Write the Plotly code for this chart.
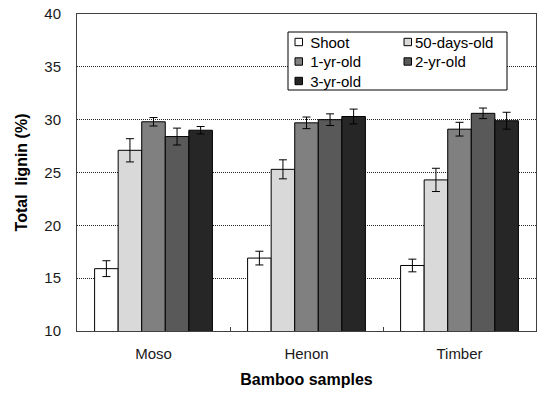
import plotly.graph_objects as go

categories = ["Moso", "Henon", "Timber"]
series_names = ["Shoot", "50-days-old", "1-yr-old", "2-yr-old", "3-yr-old"]
shoot = [15.9, 16.9, 16.2]
days50 = [27.1, 25.3, 24.3]
yr1 = [29.8, 29.7, 29.1]
yr2 = [28.4, 30.0, 30.6]
yr3 = [29.0, 30.3, 29.9]
shoot_err = [0.75, 0.65, 0.6]
days50_err = [1.1, 0.9, 1.1]
yr1_err = [0.4, 0.55, 0.65]
yr2_err = [0.8, 0.55, 0.5]
yr3_err = [0.35, 0.7, 0.8]
y_ticks = [10, 15, 20, 25, 30, 35, 40]

values = [shoot, days50, yr1, yr2, yr3]
errors = [shoot_err, days50_err, yr1_err, yr2_err, yr3_err]
colors = ["#ffffff", "#d9d9d9", "#808080", "#595959", "#262626"]

FONT = "Liberation Sans, Arial, sans-serif"
W, H = 541, 394
ML, MR, MT, MB = 77, 5, 14, 63
PW, PH = W - ML - MR, H - MT - MB


def px_x(p):
    return (p - ML) / PW


def px_y(p):
    return (H - MB - p) / PH


fig = go.Figure()
for name, vals, errs, col in zip(series_names, values, errors, colors):
    fig.add_trace(go.Bar(
        name=name, x=categories, y=vals,
        marker=dict(color=col, line=dict(color="#000000", width=1)),
        error_y=dict(type="data", array=errs, visible=True, color="#000000",
                     thickness=1, width=4),
    ))

# Legend drawn as a boxed two-column key (Excel style)
col_x = [295, 404]          # left edge of swatch (px)
row_y = [42, 61.5, 81]      # row centres (px)
labels = [" " + series_names[0], series_names[1], " " + series_names[2],
          series_names[3], " " + series_names[4]]
shapes = [dict(type="rect", xref="paper", yref="paper",
               x0=px_x(288), x1=px_x(507), y0=px_y(90), y1=px_y(32),
               line=dict(color="#000000", width=1), fillcolor="#ffffff", layer="above")]
annotations = []
for i, (lab, col) in enumerate(zip(labels, colors)):
    cx = col_x[i % 2]
    cy = row_y[i // 2]
    shapes.append(dict(type="rect", xref="paper", yref="paper",
                       x0=px_x(cx), x1=px_x(cx + 7.5), y0=px_y(cy + 3.7), y1=px_y(cy - 3.7),
                       line=dict(color="#000000", width=1), fillcolor=col, layer="above"))
    annotations.append(dict(text=lab, xref="paper", yref="paper",
                            x=px_x(cx + 9), y=px_y(cy), xanchor="left", yanchor="middle",
                            showarrow=False, font=dict(family=FONT, size=15, color="#000000")))

fig.update_layout(
    width=W, height=H,
    margin=dict(l=ML, r=MR, t=MT, b=MB, autoexpand=False),
    paper_bgcolor="#ffffff", plot_bgcolor="#ffffff",
    barmode="group", bargap=0.23, bargroupgap=0,
    font=dict(family=FONT, size=15, color="#000000"),
    showlegend=False,
    shapes=shapes, annotations=annotations,
)

fig.update_xaxes(
    showline=True, linecolor="#404040", linewidth=1, mirror=True,
    ticks="inside", tickson="boundaries", ticklen=4, tickcolor="#404040",
    showgrid=False, ticklabelstandoff=9, automargin=False,
    tickfont=dict(family=FONT, size=15, color="#1a1a1a"),
    title=dict(text="<b>Bamboo samples</b>", font=dict(family=FONT, size=16, color="#000000"), standoff=12),
)
fig.update_yaxes(
    range=[10, 40], tickvals=y_ticks,
    showline=True, linecolor="#404040", linewidth=1, mirror=True,
    ticks="", showgrid=True, gridcolor="#222222", gridwidth=1, griddash="1px,1px",
    ticklabelstandoff=12, zeroline=False, automargin=False,
    tickfont=dict(family=FONT, size=15, color="#1a1a1a"),
    title=dict(text="<b>Total  lignin (%)</b>", font=dict(family=FONT, size=16, color="#000000"), standoff=12),
)

fig.write_html("out.html", config={"displayModeBar": False},
               post_script="document.body.style.margin='0';document.body.style.overflow='hidden';")
